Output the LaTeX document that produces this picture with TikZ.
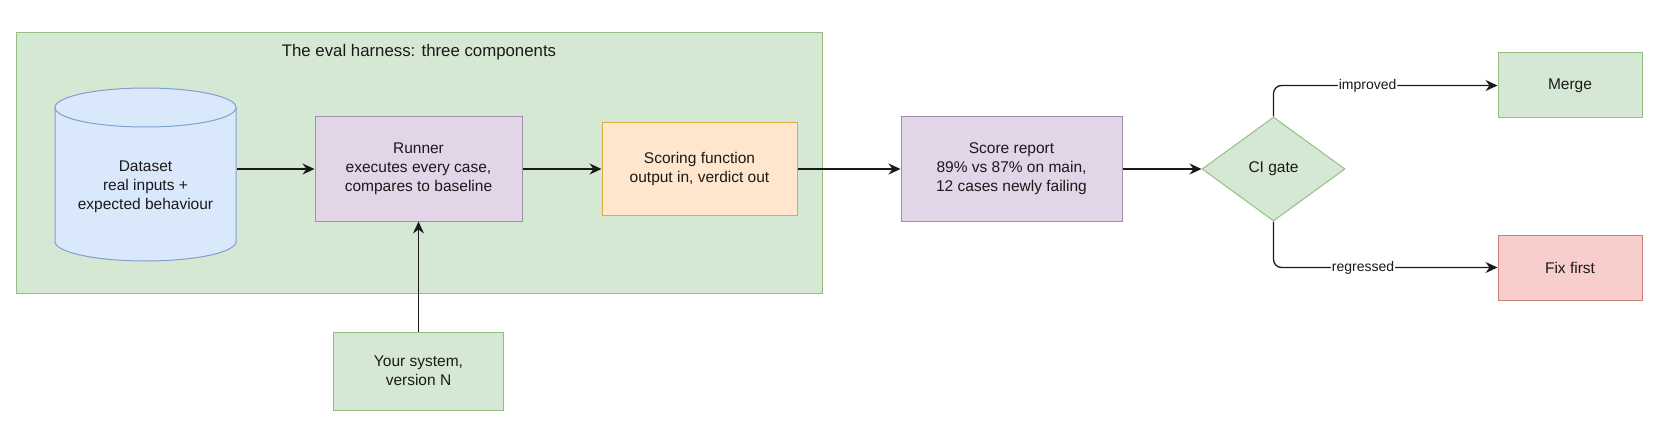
\documentclass[tikz,border=0pt]{standalone}
\usepackage{fontspec}
\setmainfont{Liberation Sans}
\usetikzlibrary{shapes.geometric, arrows.meta, positioning}
\definecolor{greenfill}{HTML}{D5E8D4}
\definecolor{greenline}{HTML}{96BE84}
\definecolor{bluefill}{HTML}{DAE8FC}
\definecolor{blueline}{HTML}{7F9FCC}
\definecolor{purplefill}{HTML}{E1D5E7}
\definecolor{purpleline}{HTML}{A18FB0}
\definecolor{orangefill}{HTML}{FFE6CC}
\definecolor{orangeline}{HTML}{DDAA40}
\definecolor{redfill}{HTML}{F8CECC}
\definecolor{redline}{HTML}{C8807D}
\definecolor{ink}{HTML}{1A1A1A}
\tikzstyle{box} = [rectangle, line width=1pt, text centered, align=center, text=ink, font=\fontsize{15.5}{19}\selectfont]
\tikzstyle{greenbox} = [box, fill=greenfill, draw=greenline]
\tikzstyle{purplebox} = [box, fill=purplefill, draw=purpleline]
\tikzstyle{orangebox} = [box, fill=orangefill, draw=orangeline]
\tikzstyle{redbox} = [box, fill=redfill, draw=redline]
\tikzstyle{gate} = [diamond, aspect=1.375, inner sep=0pt, minimum width=143pt, minimum height=104pt, line width=1pt, fill=greenfill, draw=greenline, text=ink, font=\fontsize{15.5}{19}\selectfont]
\tikzstyle{group} = [rectangle, line width=1pt, fill=greenfill, draw=greenline]
\tikzstyle{lbl} = [fill=white, inner sep=1pt, text=ink, font=\fontsize{14}{16}\selectfont]
\tikzstyle{arrow} = [line width=1.3pt, draw=ink, -{Stealth[length=12pt,width=11pt,inset=4pt]}]

\begin{document}
\begin{tikzpicture}[x=1pt, y=-1pt]
\useasboundingbox (0,0) rectangle (1657,441);

\node (harness) [group, minimum width=806pt, minimum height=260pt] at (419,163) {};
\node (title) [text=ink, font=\fontsize{16.8}{20}\selectfont] at (419,52) {The eval harness: three components};

% dataset cylinder
\filldraw [fill=bluefill, draw=blueline, line width=1pt] (55,107.5) -- (55,241.5) arc[start angle=180, end angle=360, x radius=90.5pt, y radius=19.5pt] -- (236,107.5) arc[start angle=0, end angle=180, x radius=90.5pt, y radius=19.5pt] -- cycle;
\draw [draw=blueline, line width=1pt] (55,107.5) arc[start angle=180, end angle=360, x radius=90.5pt, y radius=19.5pt];
\node (dataset) [box, minimum width=181pt] at (145.5,187) {Dataset\\real inputs +\\expected behaviour};

\node (runner) [purplebox, minimum width=207pt, minimum height=104pt] at (418.5,169) {Runner\\executes every case,\\compares to baseline};
\node (scoring) [orangebox, minimum width=195pt, minimum height=92pt, right=79pt of runner] {Scoring function\\output in, verdict out};
\node (report) [purplebox, minimum width=221pt, minimum height=104pt, right=103pt of scoring] {Score report\\89\% vs 87\% on main,\\12 cases newly failing};
\node (ci) [gate, right=79pt of report] {CI gate};
\node (merge) [greenbox, minimum width=144pt, minimum height=65pt] at (1570,85.5) {Merge};
\node (fix) [redbox, minimum width=144pt, minimum height=65pt] at (1570,267.5) {Fix first};
\node (system) [greenbox, minimum width=170pt, minimum height=78pt, below=110pt of runner] {Your system,\\version N};

\draw [arrow] (dataset.east |- runner.west) -- (runner.west);
\draw [arrow] (runner) -- (scoring);
\draw [arrow] (scoring) -- (report);
\draw [arrow] (report) -- (ci);
\draw [arrow, rounded corners=8pt] (ci.north) |- node[lbl, pos=0.71] {improved} (merge.west);
\draw [arrow, rounded corners=8pt] (ci.south) |- node[lbl, pos=0.70] {regressed} (fix.west);
\draw [arrow] (system) -- (runner);
\end{tikzpicture}
\end{document}
